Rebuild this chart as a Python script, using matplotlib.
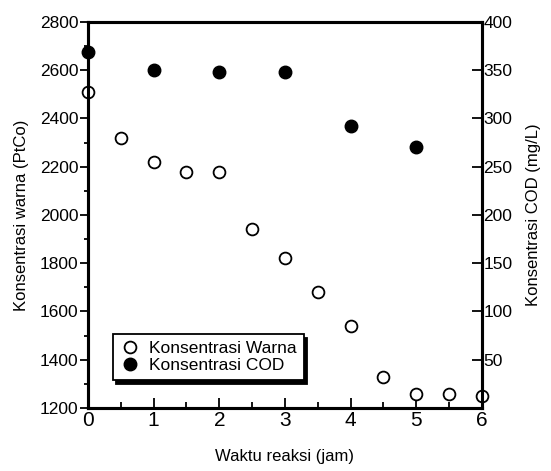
import matplotlib
matplotlib.use("Agg")
import matplotlib.pyplot as plt
from matplotlib.ticker import MultipleLocator

plt.rcParams["font.family"] = ["Liberation Sans", "DejaVu Sans"]

# data
waktu_warna = [0, 0.5, 1, 1.5, 2, 2.5, 3, 3.5, 4, 4.5, 5, 5.5, 6]
warna = [2510, 2320, 2220, 2180, 2180, 1940, 1820, 1680, 1540, 1330, 1260, 1260, 1250]
waktu_cod = [0, 1, 2, 3, 4, 5]
cod = [369, 350, 348, 348, 292, 270]

fig = plt.figure(figsize=(5.51, 4.71), dpi=100)
ax = fig.add_axes([0.1597, 0.1338, 0.715, 0.8195])
ax2 = ax.twinx()

l1, = ax.plot(waktu_warna, warna, "o", mfc="white", mec="black", mew=1.3,
              ms=8.5, clip_on=False, zorder=5, label="Konsentrasi Warna")
l2, = ax2.plot(waktu_cod, cod, "o", mfc="black", mec="black",
               ms=9, clip_on=False, zorder=5, label="Konsentrasi COD")

ax.set_xlim(0, 6)
ax.set_ylim(1200, 2800)
ax2.set_ylim(0, 400)

ax.xaxis.set_major_locator(MultipleLocator(1))
ax.xaxis.set_minor_locator(MultipleLocator(0.5))
ax.yaxis.set_major_locator(MultipleLocator(200))
ax.yaxis.set_minor_locator(MultipleLocator(100))
ax2.set_yticks([50, 100, 150, 200, 250, 300, 350, 400])

ax.tick_params(axis="x", direction="in", length=7, width=1.3, labelsize=15, pad=2)
ax.tick_params(axis="x", which="minor", direction="in", length=4, width=1.3)
ax.tick_params(axis="y", direction="out", length=6, width=1.3, labelsize=12.5, pad=1)
ax.tick_params(axis="y", which="minor", direction="out", length=3, width=1.3)
ax2.tick_params(axis="y", direction="in", length=7, width=1.3, labelsize=12.5, pad=1)

for a in (ax, ax2):
    for s in a.spines.values():
        s.set_linewidth(2.2)

ax.set_xlabel("Waktu reaksi (jam)", fontsize=12, labelpad=14)
ax.set_ylabel("Konsentrasi warna (PtCo)", fontsize=12, labelpad=8)
ax2.set_ylabel("Konsentrasi COD (mg/L)", fontsize=12, labelpad=10)

leg = ax.legend(handles=[l1, l2], loc="lower left", bbox_to_anchor=(0.063, 0.072),
                borderaxespad=0, fontsize=12.5, frameon=True, fancybox=False,
                shadow={"color": "black", "alpha": 1, "ox": 2.5, "oy": -2.5},
                handletextpad=0.5, borderpad=0.4, labelspacing=0.1, handlelength=1.2)
leg.get_frame().set_edgecolor("black")
leg.get_frame().set_linewidth(1.3)
leg.set_zorder(10)

fig.savefig("out.png", dpi=100)
